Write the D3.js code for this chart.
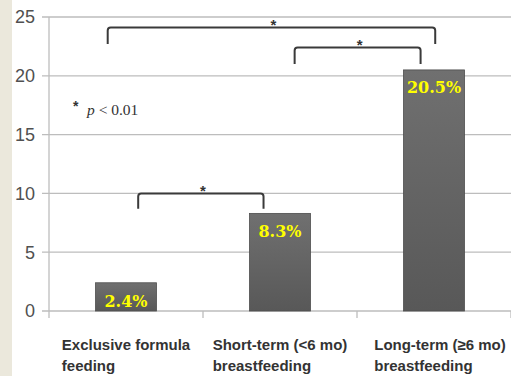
<!DOCTYPE html>
<html><head><meta charset="utf-8">
<script src="https://cdn.jsdelivr.net/npm/d3@7"></script>
<style>html,body{margin:0;padding:0;background:#fff;overflow:hidden}</style>
</head><body><svg id="c" width="511" height="376"></svg>
<script>
const categories = [["Exclusive formula","feeding"],["Short-term (<6 mo)","breastfeeding"],["Long-term (\u22656 mo)","breastfeeding"]];
const values = [2.4, 8.3, 20.5];
const valueLabels = ["2.4%","8.3%","20.5%"];
const yTicks = [0,5,10,15,20,25];
// significance brackets: [fromIndex, toIndex, yLevel (data units), legDrop (data units)]
const brackets = [[0,1,10.0,1.3],[1,2,22.4,1.4],[0,2,24.1,1.4]];
const legendText = "p < 0.01";

const svg = d3.select("#c");
const W = 511, H = 376;
const x = d3.scaleBand().domain(d3.range(categories.length)).range([49, 511]).paddingInner(0.604).paddingOuter(0.302);
const y = d3.scaleLinear().domain([0, 25]).range([311, 17]);

const defs = svg.append("defs");
const g = defs.append("linearGradient").attr("id","bar").attr("x1",0).attr("y1",0).attr("x2",0).attr("y2",1);
g.append("stop").attr("offset","0%").attr("stop-color","#707070");
g.append("stop").attr("offset","100%").attr("stop-color","#585858");

// grid lines
svg.append("g").selectAll("line").data(yTicks).join("line")
  .attr("x1", 42).attr("x2", W).attr("y1", d => y(d)).attr("y2", d => y(d))
  .attr("stroke", "#bdbdbd").attr("stroke-width", 1.3);

// y axis line
svg.append("line").attr("x1",49).attr("x2",49).attr("y1",y(25)).attr("y2",y(0)+7)
  .attr("stroke","#bdbdbd").attr("stroke-width",1.3);

// x category ticks at boundaries
const bounds = d3.range(categories.length+1).map(i => 49 + i * x.step());
svg.append("g").selectAll("line").data(bounds.slice(1)).join("line")
  .attr("x1", d=>d).attr("x2", d=>d).attr("y1", y(0)).attr("y2", y(0)+7)
  .attr("stroke","#bdbdbd").attr("stroke-width",1.3);

// y tick labels
svg.append("g").selectAll("text").data(yTicks).join("text")
  .attr("x", 35).attr("y", d => y(d)).attr("dy", "0.36em")
  .attr("text-anchor","end").attr("font-family","Liberation Sans, Arial, sans-serif")
  .attr("font-size", 18).attr("fill", "#505050").text(d => d);

// bars
svg.append("g").selectAll("rect").data(values).join("rect")
  .attr("x", (d,i) => x(i)).attr("width", x.bandwidth())
  .attr("y", d => y(d)).attr("height", d => y(0) - y(d))
  .attr("fill", "url(#bar)").attr("stroke","#4e4e4e").attr("stroke-width",0.8);

// value labels
svg.append("g").selectAll("text").data(values).join("text")
  .attr("x", (d,i) => x(i) + x.bandwidth()/2)
  .attr("y", d => Math.min(y(d) + 20, y(0) - 10))
  .attr("dy", (d,i) => i===0 ? "0.35em" : "0.2em")
  .attr("text-anchor","middle")
  .attr("font-family","Georgia, 'DejaVu Serif', serif").attr("font-weight","bold")
  .attr("font-size", 16).attr("fill", "#ffff00")
  .text((d,i) => valueLabels[i]);

// brackets
const bg = svg.append("g").attr("fill","none").attr("stroke","#3a3a3a").attr("stroke-width",2).attr("stroke-linejoin","round");
brackets.forEach(([a,b,lvl,drop]) => {
  let x1, x2;
  if (a===0 && b===1) { x1 = x(0) + x.bandwidth()*0.7; x2 = x(1) + x.bandwidth()*0.23; }
  else if (a===1 && b===2) { x1 = x(1) + x.bandwidth()*0.74; x2 = x(2) + x.bandwidth()*0.28; }
  else { x1 = x(0) + x.bandwidth()*0.2; x2 = x(2) + x.bandwidth()*0.52; }
  const yy = y(lvl), yl = y(lvl - drop);
  bg.append("path").attr("d", `M${x1},${yl} L${x1},${yy+3} Q${x1},${yy} ${x1+3},${yy} L${x2-3},${yy} Q${x2},${yy} ${x2},${yy+3} L${x2},${yl}`);
  svg.append("text").attr("x",(x1+x2)/2 + 2).attr("y", yy - 4).attr("text-anchor","middle")
    .attr("font-family","Liberation Sans, Arial, sans-serif").attr("font-size",15).attr("font-weight","bold")
    .attr("fill","#333").attr("dy","0.45em").text("*");
});

// legend
svg.append("text").attr("x", 73).attr("y", 111)
  .attr("font-family","Liberation Sans, Arial, sans-serif").attr("font-weight","bold").attr("font-size",14).attr("fill","#333").text("*");
const lt = svg.append("text").attr("x", 87).attr("y", 115)
  .attr("font-family","Liberation Serif, Times New Roman, serif").attr("font-size",15.5).attr("fill","#333");
lt.append("tspan").attr("font-style","italic").text("p");
lt.append("tspan").text(" < 0.01");

// x category labels (two lines, left aligned, block centered on band)
categories.forEach((lines, i) => {
  const t = svg.append("text").attr("font-family","Liberation Sans, Arial, sans-serif")
    .attr("font-weight","bold").attr("font-size",15).attr("fill","#333");
  lines.forEach((ln, k) => t.append("tspan").attr("y", 350 + k*21).text(ln));
  const w = t.select("tspan").node().getComputedTextLength();
  const cx = x(i) + x.bandwidth()/2 + (i===2 ? 6 : 0);
  t.selectAll("tspan").attr("x", Math.min(cx - w/2, W - 3 - w));
});

// left beige strip
svg.append("rect").attr("x",0).attr("y",0).attr("width",12).attr("height",H).attr("fill","#ebe8dc");
</script>
</body></html>
